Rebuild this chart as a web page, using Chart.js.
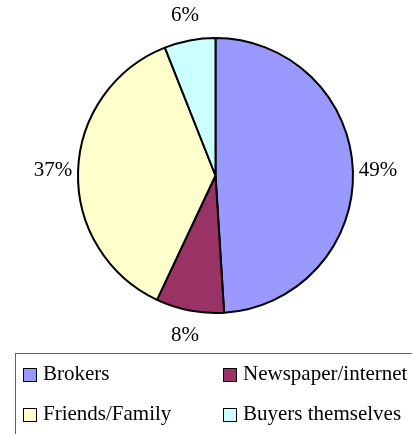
<!DOCTYPE html>
<html>
<head>
<meta charset="utf-8">
<script src="https://cdn.jsdelivr.net/npm/chart.js@4.4.0/dist/chart.umd.min.js"></script>
<style>
  html, body { margin: 0; padding: 0; background: #fff; }
  #wrap { width: 412px; height: 434px; position: relative; }
</style>
</head>
<body>
<div id="wrap"><canvas id="pieChart" width="412" height="434"></canvas></div>
<script>
// Where buyers heard about the property
const categories = ['Brokers', 'Newspaper/internet', 'Friends/Family', 'Buyers themselves'];
const shares = [49, 8, 37, 6];
const sliceColors = ['#9999ff', '#993366', '#ffffcc', '#ccffff'];

const serif = '"Liberation Serif", "Times New Roman", serif';

// Percent labels just outside each slice
const outsideLabels = {
    id: 'outsideLabels',
    afterDatasetsDraw(chart) {
        const ctx = chart.ctx;
        const meta = chart.getDatasetMeta(0);
        ctx.save();
        ctx.font = '21px ' + serif;
        ctx.fillStyle = '#000';
        ctx.textAlign = 'center';
        ctx.textBaseline = 'middle';
        meta.data.forEach((arc, i) => {
            const mid = (arc.startAngle + arc.endAngle) / 2;
            const r = arc.outerRadius + 25;
            const x = arc.x + Math.cos(mid) * r;
            const y = arc.y + Math.sin(mid) * r;
            ctx.fillText(shares[i] + '%', x, y);
        });
        ctx.restore();
    }
};

// Boxed legend along the bottom, two columns
const boxLegend = {
    id: 'boxLegend',
    afterDraw(chart) {
        const ctx = chart.ctx;
        ctx.save();
        ctx.strokeStyle = '#666';
        ctx.lineWidth = 1;
        ctx.strokeRect(15.5, 353.5, 420, 100);
        ctx.font = '21px ' + serif;
        ctx.textAlign = 'left';
        ctx.textBaseline = 'alphabetic';
        const cols = [23, 223];
        const rows = [368, 408];
        categories.forEach((name, i) => {
            const x = cols[i % 2];
            const y = rows[Math.floor(i / 2)];
            ctx.fillStyle = sliceColors[i];
            ctx.fillRect(x + 0.5, y + 0.5, 13, 13);
            ctx.strokeStyle = '#000';
            ctx.strokeRect(x + 0.5, y + 0.5, 13, 13);
            ctx.fillStyle = '#000';
            ctx.fillText(name, x + 20, y + 12);
        });
        ctx.restore();
    }
};

new Chart(document.getElementById('pieChart'), {
    type: 'pie',
    data: {
        labels: categories,
        datasets: [{
            data: shares,
            backgroundColor: sliceColors,
            borderColor: '#000',
            borderWidth: 2,
        }]
    },
    options: {
        responsive: false,
        animation: false,
        layout: { padding: { left: 77, right: 58, top: 37, bottom: 120 } },
        plugins: {
            legend: { display: false },
            tooltip: { enabled: false }
        }
    },
    plugins: [outsideLabels, boxLegend]
});
</script>
</body>
</html>
